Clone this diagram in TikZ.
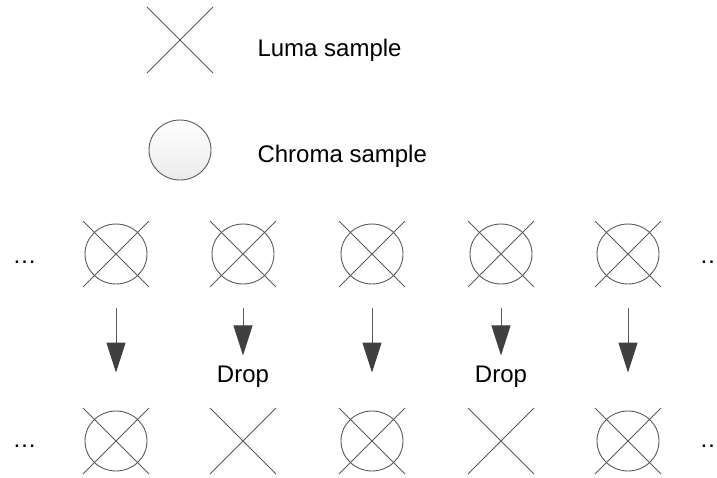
\documentclass[tikz,border=0pt]{standalone}
\usepackage{fontspec}
\setmainfont{Liberation Sans}
\usetikzlibrary{arrows.meta, shapes.misc, shapes.geometric}
\definecolor{LineGray}{RGB}{90,90,90}
\definecolor{HeadGray}{RGB}{64,64,64}

\begin{document}
\begin{tikzpicture}[x=1pt, y=-1pt, font=\fontsize{24}{28}\selectfont,
    luma/.style={cross out, draw=LineGray, line width=0.9pt, minimum size=65pt, inner sep=0pt},
    chroma/.style={ellipse, draw=LineGray, line width=0.9pt, minimum width=62pt, minimum height=60pt, inner sep=0pt},
    down/.style={draw=LineGray, line width=0.9pt, -{Triangle[length=30pt, width=19pt, color=HeadGray]}, shorten <=21.5pt},
    keep/.style={down, shorten >=35.5pt},
    drop/.style={down, shorten >=6.5pt}]
    \useasboundingbox (0,0) rectangle (717,477);
    % legend
    \node (LumaKey) [luma] at (180,40) {};
    \node (LumaText) [anchor=base west] at (254,56) {Luma sample};
    \node (ChromaKey) [chroma, top color=white, bottom color=black!8] at (180,150) {};
    \node (ChromaText) [anchor=base west] at (254,162) {Chroma sample};
    % before
    \node (TopL) [anchor=base west] at (9,263) {…};
    \node (Top1) [luma] at (116,254) {};
    \node (TopC1) [chroma] at (Top1) {};
    \node (Top2) [luma] at (243,254) {};
    \node (TopC2) [chroma] at (Top2) {};
    \node (Top3) [luma] at (372,254) {};
    \node (TopC3) [chroma] at (Top3) {};
    \node (Top4) [luma] at (501,254) {};
    \node (TopC4) [chroma] at (Top4) {};
    \node (Top5) [luma] at (628,254) {};
    \node (TopC5) [chroma] at (Top5) {};
    \node (TopR) [anchor=base west] at (696,263) {…};
    % after
    \node (BotL) [anchor=base west] at (9,447) {…};
    \node (Bot1) [luma] at (116,441) {};
    \node (BotC1) [chroma] at (Bot1) {};
    \node (Bot2) [luma] at (243,441) {};
    \node (Bot3) [luma] at (372,441) {};
    \node (BotC3) [chroma] at (Bot3) {};
    \node (Bot4) [luma] at (501,441) {};
    \node (Bot5) [luma] at (628,441) {};
    \node (BotC5) [chroma] at (Bot5) {};
    \node (BotR) [anchor=base west] at (696,447) {…};
    % arrows
    \node (Drop2) [anchor=base] at (243,382) {Drop};
    \node (Drop4) [anchor=base] at (501,382) {Drop};
    \draw[keep] (Top1) -- (Bot1);
    \draw[drop] (Top2) -- (Drop2);
    \draw[keep] (Top3) -- (Bot3);
    \draw[drop] (Top4) -- (Drop4);
    \draw[keep] (Top5) -- (Bot5);
\end{tikzpicture}
\end{document}
